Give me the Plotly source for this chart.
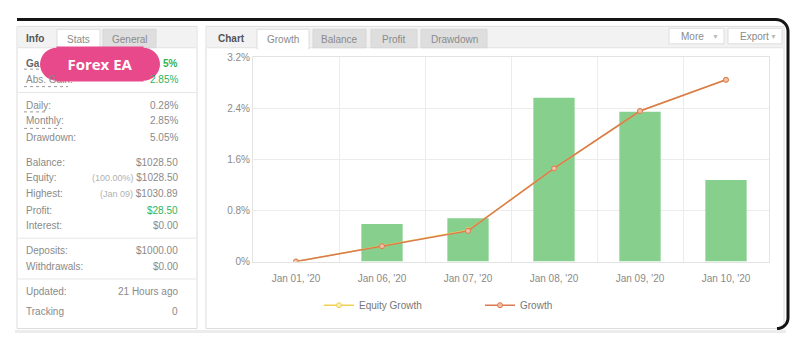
import plotly.graph_objects as go
import math

W, H = 798, 352
def fx(x): return x / W
def fy(y): return 1 - y / H

# ---------------- data ----------------
categories = ["Jan 01, '20", "Jan 06, '20", "Jan 07, '20", "Jan 08, '20", "Jan 09, '20", "Jan 10, '20"]
daily_growth = [None, 0.59, 0.68, 2.57, 2.35, 1.28]
growth = [0.0, 0.24, 0.48, 1.46, 2.36, 2.85]
equity_growth = [0.0, 0.24, 0.49, 1.46, 2.36, 2.85]
y_tick_vals = [0, 0.8, 1.6, 2.4, 3.2]
y_tick_text = ["0%", "0.8%", "1.6%", "2.4%", "3.2%"]

info_labels = ["Abs. Gain:", "Daily:", "Monthly:", "Drawdown:", "Balance:", "Equity:", "Highest:",
               "Profit:", "Interest:", "Deposits:", "Withdrawals:", "Updated:", "Tracking"]
info_values = ["2.85%", "0.28%", "2.85%", "5.05%", "$1028.50", "(100.00%) $1028.50",
               "(Jan 09) $1030.89", "$28.50", "$0.00", "$1000.00", "$0.00", "21 Hours ago", "0"]
info_green = [True, False, False, False, False, False, False, True, False, False, False, False, False]
info_rows_y = [77, 103, 119, 136, 162, 178, 194, 211, 227, 253, 269, 295, 315]

left_tabs = ["Stats", "General"]
chart_tabs = ["Growth", "Balance", "Profit", "Drawdown"]
buttons = ["More", "Export"]

FONT = "Liberation Sans, Arial, sans-serif"
GREY = "#8a8a8a"
GREEN = "#2fb35a"

fig = go.Figure()
fig.add_trace(go.Bar(x=categories, y=daily_growth, marker=dict(color="#86CF8C", line=dict(width=0)),
                     width=0.48, showlegend=False, hoverinfo="skip"))
fig.add_trace(go.Scatter(x=categories, y=equity_growth, name="Equity Growth", mode="lines+markers",
                         line=dict(color="#F0CF55", width=1.5),
                         marker=dict(size=5, color="#FBEFB8", line=dict(color="#F0CF55", width=1))))
fig.add_trace(go.Scatter(x=categories, y=growth, name="Growth", mode="lines+markers",
                         line=dict(color="#D97A52", width=1.5),
                         marker=dict(size=5, color="#F2C0A6", line=dict(color="#D97A52", width=1))))

shapes = []
ann = []

def rect(x0, y0, x1, y1, fill, line=None, lw=1, layer="below"):
    shapes.append(dict(type="rect", xref="paper", yref="paper", x0=fx(x0), x1=fx(x1), y0=fy(y1), y1=fy(y0),
                       fillcolor=fill, line=dict(color=line if line else "rgba(0,0,0,0)", width=lw if line else 0),
                       layer=layer))

def hline(x0, x1, y, color, lw=1, dash="solid", layer="below"):
    shapes.append(dict(type="line", xref="paper", yref="paper", x0=fx(x0), x1=fx(x1), y0=fy(y), y1=fy(y),
                       line=dict(color=color, width=lw, dash=dash), layer=layer))

def text(x, y, s, anchor="left", size=10, color=GREY, bold=False, family=FONT):
    ann.append(dict(xref="paper", yref="paper", x=fx(x), y=fy(y), xanchor=anchor, yanchor="middle",
                    text=("<b>%s</b>" % s) if bold else s, showarrow=False,
                    font=dict(size=size, color=color, family=family)))

# soft bottom shadow
hline(15, 786, 336, "#ececec", lw=3)

# ---------- left panel ----------
rect(17, 22, 197, 333, "white", "#dcdcdc")
rect(18, 23, 196, 44, "#f2f2f2")
hline(18, 196, 44, "#e2e2e2")
rect(57, 25, 100, 45, "white", "#dddddd")
rect(58, 43, 99, 46, "white")
rect(103, 25, 156, 44, "#dedede", "#d6d6d6")
text(24, 34, "Info", size=10, color="#555555", bold=True)
text(78.5, 35, left_tabs[0], anchor="center", color=GREY)
text(129.5, 35, left_tabs[1], anchor="center", color=GREY)

for yy in [90, 240, 282]:
    hline(18, 196, yy, "#e6e6e6")

hline(24, 40, 66, "#9a9a9a", dash="dot")
hline(24, 68, 84, "#9a9a9a", dash="dot")
hline(24, 47, 110, "#9a9a9a", dash="dot")
hline(24, 62, 127, "#9a9a9a", dash="dot")

text(24, 60, "Ga", color="#666666", bold=True)
text(180, 60, "5%", anchor="right", color=GREEN, bold=True)

for lab, val, g, yy in zip(info_labels, info_values, info_green, info_rows_y):
    text(24, yy, lab, color=GREY)
    if val.startswith("("):
        p = val.index(")") + 1
        val = "<span style='color:#b0b0b0;font-size:9px'>%s</span>%s" % (val[:p], val[p:])
    text(180, yy, val, anchor="right", color=GREEN if g else GREY)

PINK = "#E8498A"
shapes.append(dict(type="circle", xref="paper", yref="paper", x0=fx(40), x1=fx(74), y0=fy(78), y1=fy(44),
                   fillcolor=PINK, line=dict(width=0), layer="above"))
shapes.append(dict(type="circle", xref="paper", yref="paper", x0=fx(126), x1=fx(160), y0=fy(78), y1=fy(44),
                   fillcolor=PINK, line=dict(width=0), layer="above"))
ann.append(dict(xref="paper", yref="paper", x=fx(100), y=fy(61), xanchor="center", yanchor="middle",
                text="<b>Forex EA</b>", showarrow=False, bgcolor=PINK, width=86, height=34, borderpad=0,
                font=dict(size=15, color="white", family="Open Sans, sans-serif")))

# ---------- right panel ----------
rect(206, 22, 784, 333, "white", "#dcdcdc")
rect(207, 23, 783, 44, "#f2f2f2")
hline(207, 783, 44, "#e2e2e2")
text(216, 34, "Chart", color="#555555", bold=True)
tab_x = [(257, 309), (313, 366), (371, 417), (421, 487)]
for i, (t, (a, b)) in enumerate(zip(chart_tabs, tab_x)):
    if i == 0:
        rect(a, 25, b, 45, "white", "#dddddd")
        rect(a + 1, 43, b - 1, 46, "white")
    else:
        rect(a, 25, b, 44, "#dedede", "#d6d6d6")
    text((a + b) / 2, 35, t, anchor="center", color=GREY)

btn_x = [(669, 724), (728, 782)]
for t, (a, b) in zip(buttons, btn_x):
    rect(a, 24, b, 40, "white", "#dddddd")
    text(a + 10, 32, t, color=GREY)
    text(b - 9, 32, "▼", anchor="center", size=7, color="#bbbbbb")

def pth(pts):
    return "M " + " L ".join("%f,%f" % (fx(x), fy(y)) for x, y in pts)
pts = [(17, 15), (776, 15)]
for k in range(0, 11):
    a = -math.pi / 2 + k * (math.pi / 2) / 10
    pts.append((776 + 12 * math.cos(a), 27 + 12 * math.sin(a)))
pts.append((788, 322))
for k in range(0, 11):
    a = 0 + k * (math.pi / 2) / 10
    pts.append((777 + 11 * math.cos(a), 322 + 11 * math.sin(a)))
shapes.append(dict(type="path", xref="paper", yref="paper", path=pth(pts),
                   line=dict(color="#151515", width=3), layer="above"))

fig.update_layout(
    width=W, height=H, margin=dict(l=0, r=0, t=0, b=0),
    paper_bgcolor="white", plot_bgcolor="white",
    font=dict(family=FONT, size=10, color=GREY),
    shapes=shapes, annotations=ann,
    bargap=0.52,
    xaxis=dict(domain=[fx(253), fx(769)], type="category", tickson="boundaries", showgrid=True,
               gridcolor="#ececec", showline=True, mirror=True, linecolor="#e3e3e3", ticks="",
               ticklabelstandoff=7,
               tickfont=dict(size=10, color=GREY), fixedrange=True, zeroline=False),
    yaxis=dict(domain=[fy(264), fy(54)], range=[0, 3.2], tickvals=y_tick_vals, ticktext=y_tick_text,
               showgrid=True, gridcolor="#ececec", showline=True, mirror=True, linecolor="#e3e3e3",
               ticks="", zeroline=False, tickfont=dict(size=10, color=GREY), fixedrange=True),
    legend=dict(orientation="h", x=fx(319), y=fy(309), xanchor="left", yanchor="middle",
                font=dict(size=10, color="#777777"), entrywidth=116, itemwidth=30,
                bgcolor="rgba(0,0,0,0)"),
    showlegend=True,
)

fig.write_html("out.html")
